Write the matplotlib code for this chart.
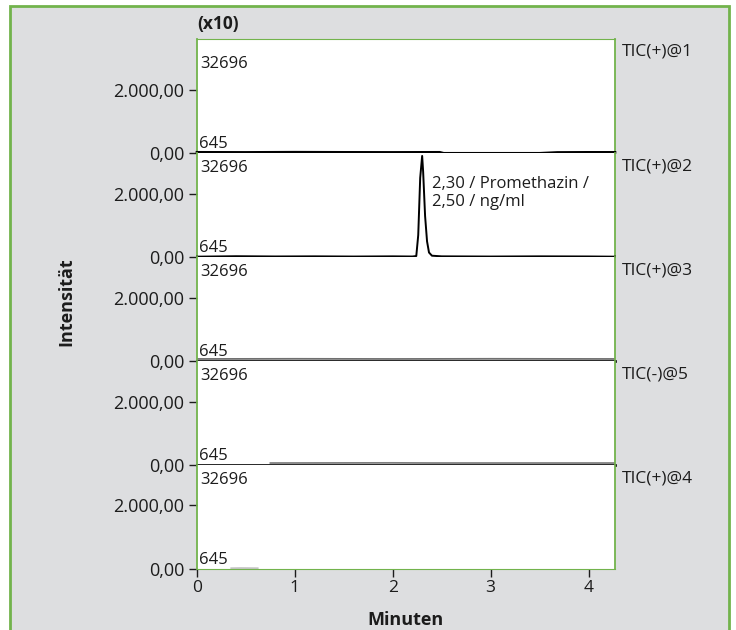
"""
Stacked TIC chromatograms (five channels) with a Promethazin peak.
"""
import matplotlib
matplotlib.use("Agg")
import matplotlib.pyplot as plt
from matplotlib.patches import Rectangle

plt.rcParams["font.family"] = ["Open Sans", "DejaVu Sans"]

GREEN = "#72b34c"
PANEL_BG = "#dddee0"
TEXT = "#1c1c1c"

# channel names, top to bottom
channels = ["TIC(+)@1", "TIC(+)@2", "TIC(+)@3", "TIC(-)@5", "TIC(+)@4"]

# intensity range printed in each trace (counts x10)
range_top = 32696
range_bottom = 645
y_scale = 10

y_ticks = [0, 2000]
y_tick_labels = ["0,00", "2.000,00"]
x_ticks = [0, 1, 2, 3, 4]
x_max = 4.27

# retention time / compound / amount of the labelled peak
peak_rt = 2.30
peak_name = "Promethazin"
peak_amount = "2,50"
peak_unit = "ng/ml"

# black traces (minutes, intensity)
p1_t = [0.0, 0.5, 1.0, 1.5, 2.0, 2.48, 2.52, 3.0, 3.5, 3.68, 4.0, 4.27]
p1_y = [35, 32, 38, 34, 32, 35, 4, 4, 4, 30, 34, 34]

p2_t = [0.0, 0.4, 0.8, 1.2, 1.6, 2.0, 2.20, 2.24, 2.26, 2.28, peak_rt,
        2.31, 2.33, 2.35, 2.37, 2.40, 2.5, 3.0, 3.5, 4.0, 4.27]
p2_y = [20, 34, 26, 30, 24, 30, 25, 40, 700, 2500, 3190,
        2700, 1300, 500, 150, 50, 30, 24, 30, 26, 20]

p3_t = [0.0, 4.27]
p3_y = [0, 0]

p4_t = [0.0, 4.27]
p4_y = [0, 0]

# grey (second) traces
p3_gray_t = [0.0, 1.0, 2.0, 3.0, 4.27]
p3_gray_y = [70, 75, 70, 75, 70]

p4_gray_t = [0.75, 2.0, 2.4, 3.0, 4.27]
p4_gray_y = [65, 70, 65, 65, 65]

p5_gray_t = [0.35, 0.45, 0.62]
p5_gray_y = [25, 30, 25]

black_traces = [(p1_t, p1_y), (p2_t, p2_y), (p3_t, p3_y), (p4_t, p4_y), None]
black_widths = [1.9, 1.4, 1.9, 1.9, None]
gray_traces = [None, None, (p3_gray_t, p3_gray_y), (p4_gray_t, p4_gray_y),
               (p5_gray_t, p5_gray_y)]
gray_colors = [None, None, "#707070", "#808080", "#c4c4c4"]

y_top = range_top / y_scale
y_limits = [3600, y_top, y_top, y_top, y_top]

fig = plt.figure(figsize=(7.36, 6.30), dpi=100)
fig.patch.set_facecolor("white")

# grey panel with green frame behind the plot
fig.patches.append(Rectangle((10 / 736, -0.02), 719 / 736, 1 - 6 / 630 + 0.02,
                             transform=fig.transFigure, facecolor=PANEL_BG,
                             edgecolor=GREEN, linewidth=2, zorder=-5))

gs = fig.add_gridspec(5, 1, height_ratios=y_limits, hspace=0,
                      left=197 / 736, right=615 / 736,
                      top=1 - 39 / 630, bottom=1 - 569 / 630)

axes = []
for i, name in enumerate(channels):
    ax = fig.add_subplot(gs[i])
    axes.append(ax)
    ax.set_facecolor("white")
    ax.set_xlim(0, x_max)
    ax.set_ylim(0, y_limits[i])

    for side in ("left", "right"):
        ax.spines[side].set_color(GREEN)
        ax.spines[side].set_linewidth(1.3)
    ax.spines["top"].set_visible(i == 0)
    ax.spines["top"].set_color(GREEN)
    ax.spines["bottom"].set_visible(i == len(channels) - 1)
    ax.spines["bottom"].set_color(GREEN)

    if gray_traces[i] is not None:
        gt, gy = gray_traces[i]
        ax.plot(gt, gy, color=gray_colors[i], linewidth=1.3, zorder=2)
    if black_traces[i] is not None:
        bt, by = black_traces[i]
        ax.plot(bt, by, color="black", linewidth=black_widths[i], zorder=3,
                clip_on=False)

    ax.set_yticks(y_ticks)
    ax.set_yticklabels(y_tick_labels)
    ax.tick_params(axis="y", direction="out", length=6, width=1,
                   color=TEXT, labelsize=13, labelcolor=TEXT, pad=3)

    if i == len(channels) - 1:
        ax.set_xticks(x_ticks)
        ax.tick_params(axis="x", direction="out", length=6, width=1,
                       color=TEXT, labelsize=12.5, labelcolor=TEXT, pad=2)
    else:
        ax.set_xticks([])

    # range labels inside each trace
    ax.annotate(str(range_top), xy=(0, y_top), xycoords="data",
                xytext=(3, -7), textcoords="offset pixels",
                ha="left", va="top", fontsize=12, color=TEXT, zorder=4)
    ax.annotate(str(range_bottom), xy=(0, 0), xycoords="data",
                xytext=(2, 1), textcoords="offset pixels",
                ha="left", va="bottom", fontsize=12, color=TEXT, zorder=4)

    # channel name right of the panel
    ax.annotate(name, xy=(1, 1), xycoords="axes fraction",
                xytext=(7, -13), textcoords="offset pixels",
                ha="left", va="center", fontsize=12.5, color=TEXT,
                annotation_clip=False)

# peak label
rt_text = f"{peak_rt:.2f}".replace(".", ",")
axes[1].text(peak_rt + 0.10, 2020,
             f"{rt_text} / {peak_name} /\n{peak_amount} / {peak_unit}",
             ha="left", va="center", fontsize=12, color=TEXT,
             linespacing=1.2, zorder=4)

fig.text(197 / 736, 1 - 24 / 630, "(x10)", ha="left", va="center",
         fontsize=12.5, fontweight="bold", color=TEXT)
fig.text(406 / 736, 1 - 620 / 630, "Minuten", ha="center", va="center",
         fontsize=13, fontweight="bold", color=TEXT)
fig.text(66 / 736, 1 - 302 / 630, "Intensität", ha="center", va="center",
         rotation=90, fontsize=13, fontweight="bold", color=TEXT)

fig.savefig("out.png", dpi=100)
plt.close(fig)
